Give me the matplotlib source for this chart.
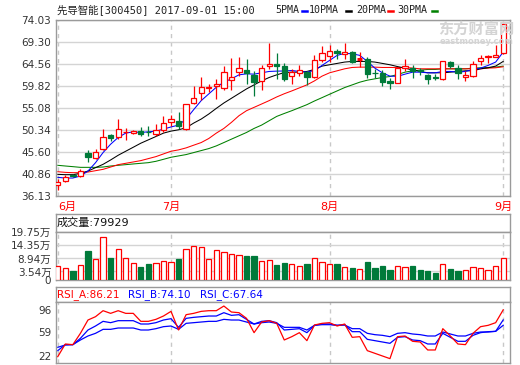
import matplotlib
matplotlib.use('Agg')
import matplotlib.pyplot as plt
from matplotlib.lines import Line2D
from matplotlib.patches import Rectangle
from matplotlib.transforms import ScaledTranslation
import numpy as np

plt.rcParams['font.family'] = ['DejaVu Sans', 'Noto Sans CJK SC']

# daily candles 2017-06-12 .. 2017-09-01
opens = [38.40, 39.41, 40.63, 40.43, 45.33, 44.32, 46.34, 49.23, 48.94, 49.90,
         49.67, 50.10, 49.95, 49.52, 50.39, 52.00, 52.19, 50.53, 56.16, 58.33,
         59.40, 59.77, 59.34, 61.21, 62.80, 63.31, 62.22, 60.92, 64.10, 64.60,
         64.10, 61.94, 62.66, 62.80, 61.65, 65.40, 66.27, 67.42, 66.70, 67.13,
         65.60, 65.69, 62.66, 62.51, 61.00, 60.53, 63.67, 63.67, 63.20, 62.22,
         61.70, 61.36, 64.97, 63.67, 61.65, 61.94, 65.11, 66.00, 66.12, 66.84]
highs = [39.70, 40.57, 40.90, 41.87, 45.98, 46.34, 50.53, 49.45, 52.70, 50.82,
         50.31, 50.89, 51.25, 51.54, 53.42, 53.56, 54.14, 55.87, 59.91, 61.72,
         60.20, 61.36, 64.10, 65.83, 66.12, 65.54, 63.09, 64.25, 69.15, 66.84,
         64.68, 63.52, 64.39, 62.95, 66.55, 68.43, 68.72, 67.71, 69.01, 67.42,
         67.13, 66.12, 63.38, 63.16, 61.50, 63.90, 65.69, 64.25, 63.67, 62.44,
         62.37, 65.26, 65.11, 64.25, 62.95, 65.26, 66.55, 66.55, 68.58, 73.34]
lows = [37.39, 39.13, 40.30, 40.14, 43.46, 44.03, 46.06, 48.00, 48.51, 48.22,
        49.45, 49.09, 49.09, 49.09, 49.95, 51.11, 50.53, 50.39, 55.87, 56.74,
        58.62, 57.03, 58.90, 59.05, 61.94, 60.20, 57.60, 59.05, 63.52, 61.36,
        60.92, 60.35, 61.94, 60.06, 61.50, 64.97, 64.97, 65.69, 65.69, 64.82,
        63.88, 61.50, 61.50, 59.91, 59.19, 60.40, 63.09, 61.50, 62.08, 60.35,
        61.07, 61.21, 63.67, 61.36, 60.92, 61.65, 64.39, 64.68, 65.98, 66.70]
closes = [39.13, 40.28, 40.50, 41.51, 44.61, 45.69, 48.94, 48.65, 50.53, 50.00,
          50.10, 49.52, 49.85, 50.39, 51.83, 52.70, 51.11, 55.87, 57.31, 59.55,
          59.60, 60.20, 62.80, 61.72, 63.67, 62.51, 60.78, 63.67, 64.54, 64.03,
          61.36, 62.80, 63.16, 61.72, 65.40, 66.99, 67.35, 66.84, 67.13, 64.97,
          65.60, 62.44, 62.51, 60.78, 60.42, 63.70, 64.10, 62.95, 63.10, 61.36,
          61.60, 65.26, 64.10, 62.51, 62.22, 64.54, 65.83, 66.27, 66.55, 73.20]

# volume in 万股
volume = [5.80, 4.83, 3.73, 6.07, 12.01, 8.56, 17.66, 9.11, 12.70, 8.97,
          6.90, 5.38, 6.62, 6.90, 7.73, 7.45, 8.69, 12.70, 13.94, 13.52,
          8.56, 12.28, 11.73, 10.63, 10.21, 9.94, 9.94, 7.87, 8.14, 6.21,
          7.18, 6.62, 5.80, 6.62, 8.97, 7.45, 6.62, 6.62, 5.24, 4.97,
          4.42, 7.45, 4.97, 5.80, 4.14, 5.80, 5.24, 5.80, 4.14, 3.73,
          2.90, 6.62, 4.55, 3.73, 4.14, 5.24, 4.83, 4.14, 5.80, 8.97]

ma5 = [40.14, 40.00, 40.00, 40.43, 41.50, 43.30, 45.48, 47.28, 48.73, 49.67,
       49.95, 49.81, 49.95, 50.10, 50.53, 51.00, 51.40, 52.70, 54.72, 56.67,
       58.11, 59.55, 60.64, 61.36, 62.22, 62.44, 62.37, 62.66, 62.95, 63.02,
       63.05, 63.16, 62.95, 62.80, 63.16, 64.25, 65.33, 66.41, 66.84, 66.77,
       66.41, 65.11, 63.67, 62.66, 61.94, 61.90, 62.37, 62.80, 62.80, 62.66,
       62.66, 62.95, 62.95, 62.80, 62.95, 63.38, 63.67, 64.25, 64.97, 67.13]
ma10 = [40.79, 40.72, 40.72, 41.00, 41.50, 42.23, 42.95, 43.89, 44.90, 45.77,
        46.63, 47.50, 48.22, 48.94, 49.67, 50.10, 50.39, 50.82, 51.83, 52.70,
        53.78, 55.00, 56.16, 57.17, 58.18, 59.19, 60.06, 60.92, 61.65, 62.22,
        62.70, 62.80, 62.80, 62.95, 63.38, 64.10, 64.39, 64.68, 64.97, 65.11,
        65.11, 65.11, 64.97, 64.68, 64.39, 64.00, 63.67, 63.23, 62.95, 62.66,
        62.66, 62.66, 62.80, 62.95, 63.09, 63.09, 63.52, 63.74, 64.10, 65.11]
ma20 = [41.36, 41.22, 41.15, 41.15, 41.29, 41.58, 41.87, 42.37, 42.88, 43.17,
        43.46, 43.75, 44.18, 44.61, 45.19, 45.77, 46.06, 46.49, 47.07, 47.64,
        48.51, 49.67, 50.68, 51.98, 53.42, 54.50, 55.22, 55.94, 56.67, 57.46,
        58.15, 58.76, 59.41, 60.06, 60.92, 61.94, 62.66, 63.09, 63.52, 63.81,
        63.88, 63.88, 63.88, 63.81, 63.81, 63.78, 63.81, 63.67, 63.52, 63.52,
        63.52, 63.52, 63.52, 63.52, 63.52, 63.52, 63.52, 63.67, 63.74, 63.96]
ma30 = [42.74, 42.59, 42.45, 42.30, 42.30, 42.30, 42.37, 42.59, 42.74, 42.88,
        43.03, 43.17, 43.31, 43.60, 44.03, 44.47, 44.76, 45.05, 45.48, 45.91,
        46.34, 46.92, 47.64, 48.37, 49.09, 49.81, 50.68, 51.40, 52.34, 53.27,
        53.90, 54.50, 55.15, 55.80, 56.59, 57.31, 58.04, 58.76, 59.48, 60.06,
        60.64, 61.07, 61.36, 61.65, 61.86, 62.30, 62.80, 63.09, 63.23, 63.38,
        63.38, 63.52, 63.52, 63.52, 63.52, 63.67, 63.74, 63.81, 63.88, 64.10]

rsi_a = [30.0, 45.2, 44.4, 58.0, 74.0, 78.0, 85.2, 82.0, 85.2, 82.0,
         82.0, 72.4, 72.4, 74.8, 78.8, 84.4, 62.0, 80.4, 82.0, 84.4,
         85.2, 85.2, 90.8, 83.6, 82.8, 76.0, 58.8, 71.6, 73.2, 70.0,
         50.0, 54.0, 58.8, 49.2, 68.0, 70.0, 70.8, 66.8, 69.2, 53.2,
         54.0, 37.2, 34.0, 30.8, 27.6, 54.0, 54.8, 48.4, 47.6, 38.0,
         38.0, 63.6, 54.8, 45.2, 44.4, 58.0, 66.0, 67.6, 70.8, 86.21]
rsi_b = [37.2, 44.4, 44.4, 52.0, 62.0, 66.8, 72.4, 70.8, 73.2, 73.2,
         73.2, 69.2, 69.2, 70.8, 74.0, 75.6, 65.2, 76.0, 77.2, 78.0,
         78.8, 78.8, 82.8, 79.6, 80.4, 74.8, 69.2, 72.4, 73.2, 70.8,
         62.0, 62.8, 63.6, 58.8, 67.6, 69.2, 69.2, 67.6, 68.4, 60.0,
         60.0, 50.8, 49.2, 47.6, 46.0, 53.2, 54.0, 50.0, 49.2, 45.2,
         45.2, 58.0, 53.2, 48.4, 48.4, 55.6, 58.8, 60.0, 60.4, 74.10]
rsi_c = [41.2, 44.0, 44.4, 50.0, 54.8, 58.0, 62.8, 62.8, 64.4, 64.4,
         64.4, 62.0, 62.0, 63.6, 66.0, 66.8, 62.8, 70.0, 70.8, 71.6,
         72.4, 72.4, 74.8, 74.0, 74.0, 71.6, 69.2, 70.8, 71.6, 70.0,
         65.2, 65.2, 65.2, 62.0, 67.6, 68.4, 68.4, 67.6, 68.0, 63.6,
         63.6, 58.0, 56.4, 55.6, 54.0, 58.0, 58.8, 57.2, 56.4, 54.8,
         54.8, 59.6, 57.2, 54.8, 54.8, 58.0, 59.6, 59.6, 60.4, 67.64]

month_starts = [0, 15, 36, 59]
month_labels = ['6月', '7月', '8月', '9月']
price_ticks = [36.13, 40.86, 45.60, 50.34, 55.08, 59.82, 64.56, 69.30, 74.03]
vol_ticks = [0, 3.54, 8.94, 14.35, 19.75]
vol_labels = ['0', '3.54万', '8.94万', '14.35万', '19.75万']
rsi_ticks = [22, 59, 96]

RED = '#ff0000'
GREEN = '#007a3a'
BLUE = '#0000ff'
FRAME = '#9a9a9a'
GRID = '#d4d4d4'
DASH = '#c8c8c8'
TXT = '#333333'

W, H = 520, 365
L, R = 55.5, 510
fig = plt.figure(figsize=(W / 100, H / 100), dpi=100)
n = len(closes)
x = np.arange(n)


def panel(top, bottom):
    ax = fig.add_axes([L / W, 1 - bottom / H, (R - L) / W, (bottom - top) / H])
    for s in ax.spines.values():
        s.set_color(FRAME)
        s.set_linewidth(1)
    ax.set_xlim(-0.3, n - 0.1)
    ax.tick_params(length=0, labelsize=7.5, colors=TXT, pad=3)
    return ax


def fx(px):
    return px / W


def fy(py):
    return 1 - py / H


# ---- price panel
ax1 = panel(20, 196)
ax1.set_ylim(price_ticks[0], price_ticks[-1])
ax1.set_yticks(price_ticks)
ax1.set_yticklabels(['%.2f' % v for v in price_ticks])
ax1.grid(axis='y', color=GRID, lw=1)
ax1.set_xticks(month_starts)
ax1.set_xticklabels(month_labels, fontsize=8)
ax1.tick_params(axis='x', colors=RED, pad=4)
ax1.get_xticklabels()[0].set_ha('left')
for m in month_starts:
    ax1.axvline(m, color=DASH, lw=1, ls=(0, (3, 3)), zorder=1)

ax1.plot(x, ma30, color='#008000', lw=0.75, zorder=2)
ax1.plot(x, ma20, color=RED, lw=0.75, zorder=2)
ax1.plot(x, ma10, color='black', lw=0.75, zorder=2)
ax1.plot(x, ma5, color=BLUE, lw=0.75, zorder=2)

for i in range(n):
    o, h, l, c = opens[i], highs[i], lows[i], closes[i]
    up = c >= o
    col = RED if up else GREEN
    lo, hi = min(o, c), max(o, c)
    ax1.vlines(i, hi, h, color=col, lw=0.9, zorder=3)
    ax1.vlines(i, l, lo, color=col, lw=0.9, zorder=3)
    if c == o:
        ax1.hlines(o, i - 0.35, i + 0.35, color=col, lw=2.2, zorder=4)
    else:
        ax1.add_patch(Rectangle((i - 0.35, lo), 0.7, hi - lo,
                                facecolor='white' if up else col,
                                edgecolor=col, lw=0.9, zorder=4))

# title and MA legend
mono = ['DejaVu Sans Mono', 'Noto Sans CJK SC']
fig.text(fx(57), fy(10), '先导智能[300450] 2017-09-01 15:00', fontsize=7.5,
         family=mono, color='#222222', va='center')
legend = [('5PMA', 275, 302, BLUE), ('10PMA', 309, 346, 'black'),
          ('20PMA', 356, 388, RED), ('30PMA', 397, 432, '#008000')]
for name, tx, dx, col in legend:
    fig.text(fx(tx), fy(10), name, fontsize=7.2, family=mono,
             color='#222222', va='center')
    fig.add_artist(Line2D([fx(dx), fx(dx + 5)], [fy(11), fy(11)],
                          color=col, lw=1.8))

# watermark
fig.text(fx(438), fy(28.5), '东方财富网', fontsize=11, fontweight='bold',
         color='#d4d4d4', va='center', family=['Noto Sans CJK SC'])
fig.text(fx(440), fy(41.5), 'eastmoney.com', fontsize=6, fontweight='bold',
         color='#d4d4d4', va='center')

# ---- volume panel
vlab = panel(214, 232.3)
vlab.set_xticks([])
vlab.set_yticks([])
fig.text(fx(57), fy(223), '成交量:79929', fontsize=8, color='#111111',
         va='center')

ax2 = panel(232.3, 280)
ax2.set_ylim(0, vol_ticks[-1])
ax2.set_yticks(vol_ticks)
ax2.set_yticklabels(vol_labels)
ax2.grid(axis='y', color=GRID, lw=1)
ax2.set_xticks([])
for m in month_starts:
    ax2.axvline(m, color=DASH, lw=1, ls=(0, (3, 3)), zorder=1)
ups = [c >= o for o, c in zip(opens, closes)]
ax2.bar(x, volume, width=0.7,
        color=['white' if u else GREEN for u in ups],
        edgecolor=[RED if u else GREEN for u in ups], lw=0.9, zorder=3)

# ---- RSI panel
rlab = panel(287.3, 301.7)
rlab.set_xticks([])
rlab.set_yticks([])
for txt, tx, col in [('RSI_A:86.21', 57, RED), ('RSI_B:74.10', 128, BLUE),
                     ('RSI_C:67.64', 200, BLUE)]:
    fig.text(fx(tx), fy(294.5), txt, fontsize=7.5, color=col, va='center')

ax3 = panel(301.7, 363.3)
ax3.set_ylim(rsi_ticks[0], rsi_ticks[-1])
ax3.set_yticks(rsi_ticks)
ax3.set_yticklabels([str(v) for v in rsi_ticks])
ax3.set_xticks([])
for m in month_starts:
    ax3.axvline(m, color=DASH, lw=1, ls=(0, (3, 3)), zorder=1)
labs = ax3.get_yticklabels()
labs[0].set_transform(labs[0].get_transform() +
                      ScaledTranslation(0, 7 / 100, fig.dpi_scale_trans))
labs[-1].set_transform(labs[-1].get_transform() +
                       ScaledTranslation(0, -8 / 100, fig.dpi_scale_trans))
ax3.plot(x, rsi_c, color=BLUE, lw=0.9, zorder=2)
ax3.plot(x, rsi_b, color=BLUE, lw=0.9, zorder=2)
ax3.plot(x, rsi_a, color=RED, lw=0.9, zorder=3)

fig.savefig('out.png', dpi=100)
